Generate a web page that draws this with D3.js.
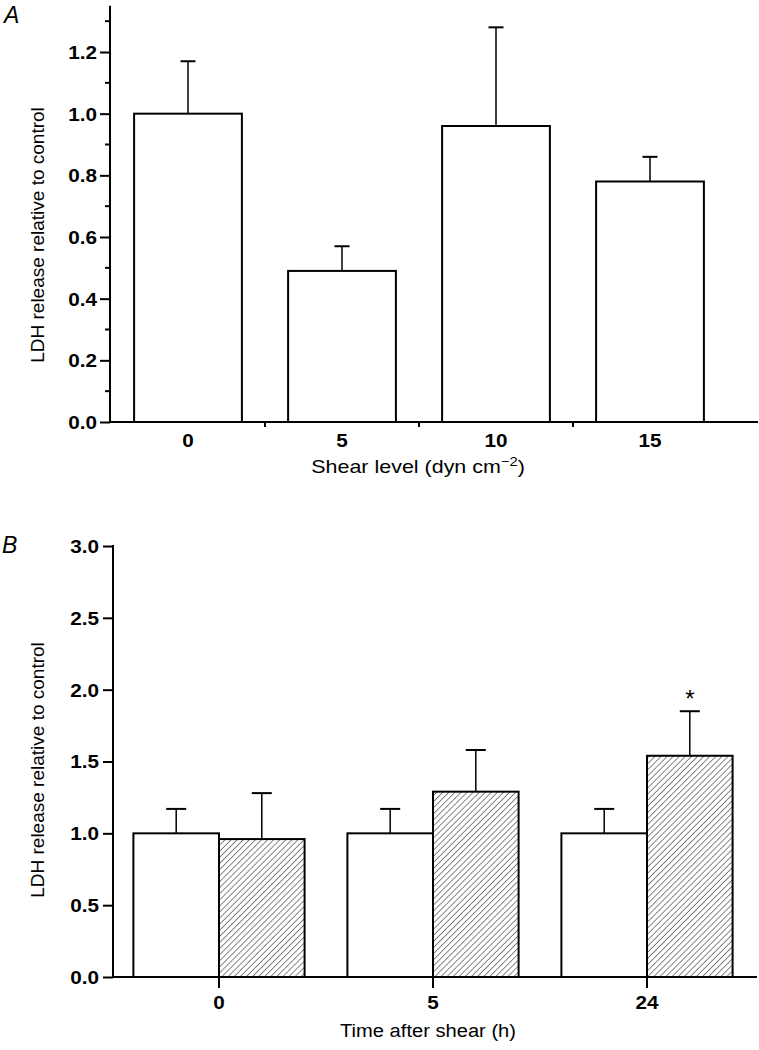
<!DOCTYPE html>
<html>
<head>
<meta charset="utf-8">
<script src="https://cdn.jsdelivr.net/npm/d3@7"></script>
<style>
  html, body { margin: 0; padding: 0; background: #fff; }
  svg { display: block; }
  text { font-family: "Liberation Sans", Arial, Helvetica, sans-serif; fill: #000; }
</style>
</head>
<body>
<svg id="chart" width="759" height="1050"></svg>
<script>
// ---------- Data ----------
// Panel A
const shearLevels = ["0", "5", "10", "15"];
const ldhA = [1.00, 0.49, 0.96, 0.78];
const ldhAErr = [0.17, 0.08, 0.32, 0.08];
const yTicksA = [0.0, 0.2, 0.4, 0.6, 0.8, 1.0, 1.2];
const yMinorTicksA = [0.1, 0.3, 0.5, 0.7, 0.9, 1.1, 1.3];

// Panel B
const timePoints = ["0", "5", "24"];
const seriesB = ["control", "shear"];
const ldhBControl = [1.00, 1.00, 1.00];
const ldhBControlErr = [0.17, 0.17, 0.17];
const ldhBShear = [0.96, 1.29, 1.54];
const ldhBShearErr = [0.32, 0.29, 0.31];
const significantB = [false, false, true];
const yTicksB = [0.0, 0.5, 1.0, 1.5, 2.0, 2.5, 3.0];

const yTitle = "LDH release relative to control";

// ---------- Setup ----------
const svg = d3.select("#chart");
const defs = svg.append("defs");
defs.append("pattern")
  .attr("id", "hatch")
  .attr("patternUnits", "userSpaceOnUse")
  .attr("width", 4.3).attr("height", 4.3)
  .attr("patternTransform", "rotate(45)")
  .append("line")
  .attr("x1", 0).attr("y1", 0).attr("x2", 0).attr("y2", 4.3)
  .attr("stroke", "#222").attr("stroke-width", 1.1);

const tickFont = "bold 18px 'Liberation Sans', Arial, sans-serif";
const SX = 1.15; // horizontal stretch of the original lettering

// stretch a text horizontally about its own anchor point
function stretchText(sel, sx) {
  sel.each(function () {
    const t = d3.select(this);
    const x = +t.attr("x") || 0;
    const y = +t.attr("y") || 0;
    t.attr("x", 0).attr("y", 0)
      .attr("transform", `translate(${x},${y}) scale(${sx},1)`);
  });
}

// ---------- Panel A ----------
const gA = svg.append("g");
const yA = d3.scaleLinear().domain([0, 1.2]).range([422, 52]);
const xA = d3.scaleBand().domain(shearLevels).range([111, 727])
  .paddingInner(0.3).paddingOuter(0.15);
const axisLeftX_A = 110;

gA.selectAll("rect.bar").data(shearLevels).join("rect")
  .attr("class", "bar")
  .attr("x", (d) => xA(d))
  .attr("y", (d, i) => yA(ldhA[i]))
  .attr("width", xA.bandwidth())
  .attr("height", (d, i) => yA(0) - yA(ldhA[i]))
  .attr("fill", "#fff").attr("stroke", "#000").attr("stroke-width", 2);

shearLevels.forEach((d, i) => {
  const cx = xA(d) + xA.bandwidth() / 2;
  const top = yA(ldhA[i] + ldhAErr[i]);
  gA.append("line").attr("x1", cx).attr("x2", cx)
    .attr("y1", yA(ldhA[i])).attr("y2", top)
    .attr("stroke", "#000").attr("stroke-width", 1.5);
  gA.append("line").attr("x1", cx - 7.5).attr("x2", cx + 7.5)
    .attr("y1", top).attr("y2", top)
    .attr("stroke", "#000").attr("stroke-width", 2);
});

const yAxisA = gA.append("g").attr("transform", `translate(${axisLeftX_A},0)`)
  .call(d3.axisLeft(yA).tickValues(yTicksA).tickFormat(d3.format(".1f"))
    .tickSize(10).tickPadding(3).tickSizeOuter(0));
yAxisA.select(".domain").remove();
yAxisA.selectAll(".tick line").attr("stroke", "#000").attr("stroke-width", 2);
yAxisA.selectAll(".tick text").style("font", tickFont).attr("dy", null)
  .attr("dominant-baseline", "central").call(stretchText, SX);
gA.append("line").attr("x1", axisLeftX_A).attr("x2", axisLeftX_A)
  .attr("y1", yA(0) + 1).attr("y2", yA(1.35))
  .attr("stroke", "#000").attr("stroke-width", 2);
gA.selectAll("line.minor").data(yMinorTicksA).join("line")
  .attr("class", "minor")
  .attr("x1", axisLeftX_A - 5).attr("x2", axisLeftX_A)
  .attr("y1", (d) => yA(d)).attr("y2", (d) => yA(d))
  .attr("stroke", "#000").attr("stroke-width", 2);

gA.append("line").attr("x1", axisLeftX_A - 1).attr("x2", 758)
  .attr("y1", yA(0)).attr("y2", yA(0))
  .attr("stroke", "#000").attr("stroke-width", 2);
const stepA = xA.step();
gA.selectAll("line.sep").data(shearLevels.slice(1)).join("line")
  .attr("class", "sep")
  .attr("x1", (d) => xA(d) - stepA * 0.15).attr("x2", (d) => xA(d) - stepA * 0.15)
  .attr("y1", yA(0)).attr("y2", yA(0) + 5)
  .attr("stroke", "#000").attr("stroke-width", 2);
gA.selectAll("text.xlab").data(shearLevels).join("text")
  .attr("class", "xlab")
  .attr("x", (d) => xA(d) + xA.bandwidth() / 2)
  .attr("y", 447)
  .attr("text-anchor", "middle")
  .style("font", tickFont)
  .text((d) => d)
  .call(stretchText, SX);

const xTitleA = gA.append("text").attr("x", 418).attr("y", 473)
  .attr("text-anchor", "middle").style("font-size", "19px");
xTitleA.append("tspan").text("Shear level (dyn cm");
xTitleA.append("tspan").attr("dy", -7).style("font-size", "13px").text("\u22122");
xTitleA.append("tspan").attr("dy", 7).text(")");
stretchText(xTitleA, 1.13);

gA.append("text").attr("transform", "translate(44,235) rotate(-90)")
  .attr("text-anchor", "middle").style("font-size", "19px").text(yTitle);

gA.append("text").attr("x", 4).attr("y", 23)
  .style("font-size", "23px").style("font-style", "italic").text("A");

// ---------- Panel B ----------
const gB = svg.append("g");
const yB = d3.scaleLinear().domain([0, 3]).range([977, 546]);
const xB = d3.scaleBand().domain(timePoints).range([112, 754])
  .paddingInner(0.2).paddingOuter(0.1);
const xBSub = d3.scaleBand().domain(seriesB).range([0, xB.bandwidth()]).padding(0);
const axisLeftX_B = 113;

const barsB = [];
timePoints.forEach((t, i) => {
  barsB.push({ t, s: "control", v: ldhBControl[i], e: ldhBControlErr[i], sig: false });
  barsB.push({ t, s: "shear", v: ldhBShear[i], e: ldhBShearErr[i], sig: significantB[i] });
});

gB.selectAll("rect.bar").data(barsB).join("rect")
  .attr("class", "bar")
  .attr("x", (d) => xB(d.t) + xBSub(d.s))
  .attr("y", (d) => yB(d.v))
  .attr("width", xBSub.bandwidth())
  .attr("height", (d) => yB(0) - yB(d.v))
  .attr("fill", (d) => d.s === "shear" ? "url(#hatch)" : "#fff")
  .attr("stroke", "#000").attr("stroke-width", 2);

barsB.forEach((d) => {
  const cx = xB(d.t) + xBSub(d.s) + xBSub.bandwidth() / 2;
  const top = yB(d.v + d.e);
  gB.append("line").attr("x1", cx).attr("x2", cx)
    .attr("y1", yB(d.v)).attr("y2", top)
    .attr("stroke", "#000").attr("stroke-width", 1.5);
  gB.append("line").attr("x1", cx - 10).attr("x2", cx + 10)
    .attr("y1", top).attr("y2", top)
    .attr("stroke", "#000").attr("stroke-width", 2);
  if (d.sig) {
    gB.append("text").attr("x", cx).attr("y", top - 4)
      .attr("text-anchor", "middle").style("font-size", "24px").text("*");
  }
});

const yAxisB = gB.append("g").attr("transform", `translate(${axisLeftX_B},0)`)
  .call(d3.axisLeft(yB).tickValues(yTicksB).tickFormat(d3.format(".1f"))
    .tickSize(10).tickPadding(4).tickSizeOuter(0));
yAxisB.select(".domain").remove();
yAxisB.selectAll(".tick line").attr("stroke", "#000").attr("stroke-width", 2);
yAxisB.selectAll(".tick text").style("font", tickFont).attr("dy", null)
  .attr("dominant-baseline", "central").call(stretchText, SX);
gB.append("line").attr("x1", axisLeftX_B).attr("x2", axisLeftX_B)
  .attr("y1", yB(0) + 1).attr("y2", yB(3) - 1)
  .attr("stroke", "#000").attr("stroke-width", 2);

gB.append("line").attr("x1", axisLeftX_B - 1).attr("x2", 757)
  .attr("y1", yB(0)).attr("y2", yB(0))
  .attr("stroke", "#000").attr("stroke-width", 2);
gB.selectAll("line.xt").data(timePoints).join("line")
  .attr("class", "xt")
  .attr("x1", (d) => xB(d) + xB.bandwidth() / 2).attr("x2", (d) => xB(d) + xB.bandwidth() / 2)
  .attr("y1", yB(0)).attr("y2", yB(0) + 11)
  .attr("stroke", "#000").attr("stroke-width", 2);
gB.selectAll("text.xlab").data(timePoints).join("text")
  .attr("class", "xlab")
  .attr("x", (d) => xB(d) + xB.bandwidth() / 2)
  .attr("y", 1009)
  .attr("text-anchor", "middle")
  .style("font", tickFont)
  .text((d) => d)
  .call(stretchText, SX);

const xTitleB = gB.append("text").attr("x", 428).attr("y", 1037)
  .attr("text-anchor", "middle").style("font-size", "19px").text("Time after shear (h)");
stretchText(xTitleB, 1.06);

gB.append("text").attr("transform", "translate(44,770) rotate(-90)")
  .attr("text-anchor", "middle").style("font-size", "19px").text(yTitle);

gB.append("text").attr("x", 2).attr("y", 553)
  .style("font-size", "23px").style("font-style", "italic").text("B");
</script>
</body>
</html>
